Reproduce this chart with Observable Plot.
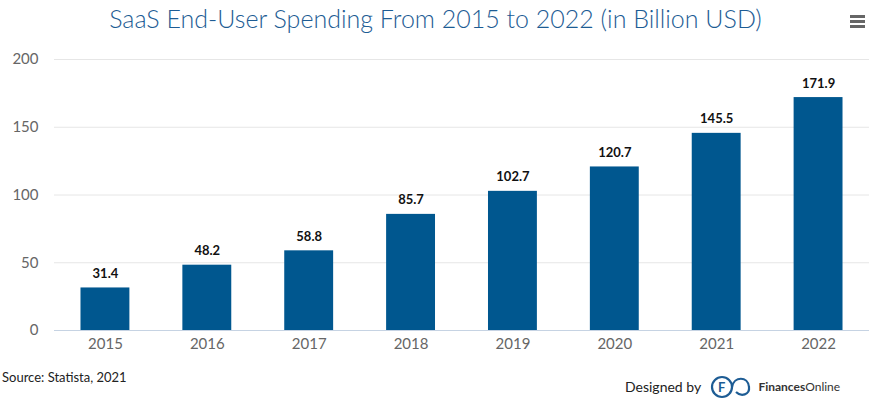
<!DOCTYPE html>
<html>
<head>
<meta charset="utf-8">
<script src="https://cdn.jsdelivr.net/npm/d3@7"></script>
<script src="https://cdn.jsdelivr.net/npm/@observablehq/plot@0.6"></script>
<style>
  html, body { margin: 0; padding: 0; background: #fff; }
  #wrap { position: relative; width: 871px; height: 407px; overflow: hidden; font-family: Lato, "Open Sans", sans-serif; }
  #title { position: absolute; left: 0; top: 3px; width: 871px; text-align: center; font-size: 25px; color: #1d5c94; font-weight: 300; }
  #menu { position: absolute; left: 850px; top: 15px; width: 15px; }
  #menu div { height: 3px; background: #666; margin-bottom: 2px; }
  #chart { position: absolute; left: 0; top: 45px; }
  #source { position: absolute; left: 2px; top: 369px; font-size: 13px; color: #222; }
  #designed { position: absolute; left: 625px; top: 373px; font-size: 14px; color: #222; display: flex; align-items: center; }
  #designed .brand { font-weight: 700; font-size: 12px; color: #333; }
  #designed .brand span { font-weight: 400; }
</style>
</head>
<body>
<div id="wrap">
  <div id="title">SaaS End-User Spending From 2015 to 2022 (in Billion USD)</div>
  <div id="menu"><div></div><div></div><div></div></div>
  <div id="chart"></div>
  <div id="source">Source: Statista, 2021</div>
  <div id="designed">Designed by&nbsp;
    <svg width="44" height="26" viewBox="0 0 44 26" style="margin:0 4px 0 6px">
      <circle cx="12" cy="14" r="10" fill="none" stroke="#1d5c94" stroke-width="2.2"/>
      <path d="M22 14 C 24 3, 38 3, 39 14 C 40 22, 31 24, 26 19" fill="none" stroke="#1d5c94" stroke-width="2.2"/>
      <text x="8" y="19" font-size="13" font-weight="700" fill="#1d5c94" font-family="Lato, sans-serif">F</text>
    </svg>
    <div class="brand">Finances<span>Online</span></div>
  </div>
</div>
<script>
const years = ["2015", "2016", "2017", "2018", "2019", "2020", "2021", "2022"];
const spending = [31.4, 48.2, 58.8, 85.7, 102.7, 120.7, 145.5, 171.9];
const yTicks = [0, 50, 100, 150, 200];

const data = years.map((y, i) => ({year: y, value: spending[i]}));

const chart = Plot.plot({
  width: 871,
  height: 320,
  marginTop: 14,
  marginBottom: 35,
  marginLeft: 54,
  marginRight: 2,
  style: {fontFamily: "Lato, 'Open Sans', sans-serif", background: "transparent"},
  x: {domain: years, paddingInner: 0.52, paddingOuter: 0.26, round: false, label: null},
  y: {domain: [0, 200], ticks: yTicks, label: null},
  marks: [
    Plot.gridY(yTicks.filter(d => d > 0), {stroke: "#e6e6e6", strokeOpacity: 1}),
    Plot.barY(data, {x: "year", y: "value", fill: "#00578f"}),
    Plot.ruleY([0], {stroke: "#c6d3e3"}),
    Plot.axisX({tickSize: 0, tickPadding: 8, fontSize: 15, color: "#666", label: null}),
    Plot.axisY(yTicks, {tickSize: 0, tickPadding: 16, fontSize: 15, color: "#666", label: null}),
    Plot.text(data, {x: "year", y: "value", text: d => d.value.toFixed(1), dy: -10, lineAnchor: "bottom", fontSize: 13, fontWeight: 700, fill: "#111"})
  ]
});
document.getElementById("chart").appendChild(chart);
</script>
</body>
</html>
